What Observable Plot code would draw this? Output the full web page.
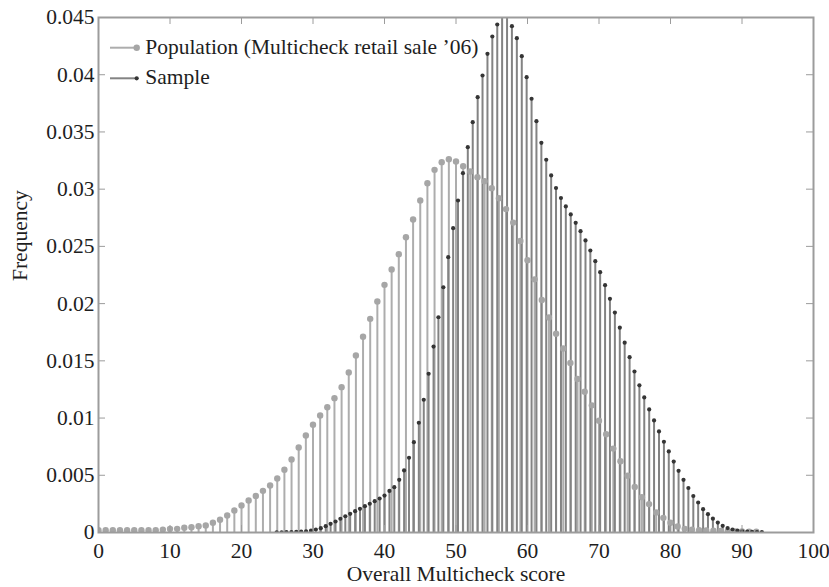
<!DOCTYPE html>
<html><head><meta charset="utf-8">
<script src="https://cdn.jsdelivr.net/npm/d3@7"></script>
<script src="https://cdn.jsdelivr.net/npm/@observablehq/plot@0.6"></script>
<style>body{margin:0;background:#fff}#chart svg{display:block}</style>
</head><body><div id="chart"></div>
<script>
// ---- data ----
const popScore = [0,1,2,3,4,5,6,7,8,9,10,11,12,13,14,15,16,17,18,19,20,21,22,23,24,25,26,27,28,29,30,31,32,33,34,35,36,37,38,39,40,41,42,43,44,45,46,47,48,49,50,51,52,53,54,55,56,57,58,59,60,61,62,63,64,65,66,67,68,69,70,71,72,73,74,75,76,77,78,79,80,81,82,83,84,85,86,87,88,89,90,91,92];
const popFreq = [0.0002,0.0002,0.0002,0.0002,0.0002,0.0002,0.0002,0.0002,0.0002,0.00025,
0.0003,0.00032,0.00041,0.00046,0.00055,0.00061,0.00085,0.00111,0.00149,0.00192,
0.00236,0.0028,0.00319,0.00364,0.00411,0.00472,0.00548,0.00638,0.00743,0.00848,
0.00941,0.01022,0.01095,0.01174,0.0127,0.01398,0.01547,0.0171,0.01867,0.02019,
0.02164,0.02298,0.02432,0.0258,0.02735,0.02901,0.03052,0.03169,0.03236,0.03262,
0.03242,0.03201,0.03154,0.03105,0.0307,0.03009,0.02921,0.02826,0.02708,0.02547,
0.02379,0.02212,0.02032,0.01879,0.01736,0.01608,0.01482,0.01342,0.0123,0.01111,
0.00977,0.00859,0.00733,0.00622,0.00496,0.00398,0.00309,0.00248,0.00175,0.00128,
0.00085,0.00052,0.00032,0.00025,0.0002,0.00018,0.00015,0.00013,0.00012,0.0001,
0.0001,0.00008,0.00008];

const sampleScore = [24.92,25.61,26.29,26.98,27.66,28.35,29.03,29.72,30.40,31.09,
31.78,32.46,33.15,33.83,34.52,35.20,35.89,36.57,37.26,37.94,
38.63,39.32,40.00,40.69,41.37,42.06,42.74,43.43,44.11,44.80,
45.49,46.17,46.86,47.54,48.23,48.91,49.60,50.28,50.97,51.65,
52.34,53.03,53.71,54.40,55.08,55.77,56.45,57.14,57.82,58.51,
59.20,59.88,60.57,61.25,61.94,62.62,63.31,63.99,64.68,65.36,
66.05,66.74,67.42,68.11,68.79,69.48,70.16,70.85,71.53,72.22,
72.91,73.59,74.28,74.96,75.65,76.33,77.02,77.70,78.39,79.08,
79.76,80.45,81.13,81.82,82.50,83.19,83.87,84.56,85.24,85.93,
86.62,87.30,87.99,88.67,89.36,90.04,90.73,91.41,92.10,92.78];
const sampleFreq = [0.00002,0.00002,0.00003,0.00004,0.00005,0.00007,0.0001,0.00017,0.00026,0.00038,
0.00055,0.00076,0.00096,0.0012,0.00142,0.00163,0.00186,0.00207,0.0023,0.00251,
0.00274,0.00297,0.00323,0.00363,0.00396,0.0046,0.00542,0.00653,0.00789,0.00959,
0.0116,0.01387,0.01625,0.01881,0.02143,0.02406,0.02659,0.02901,0.0314,0.03367,
0.03585,0.03804,0.03993,0.04183,0.04334,0.04439,0.0454,0.0455,0.04424,0.04319,
0.04162,0.03979,0.0379,0.03594,0.03405,0.03257,0.0312,0.0301,0.02923,0.02849,
0.02779,0.02706,0.02633,0.02552,0.02464,0.02371,0.02275,0.02161,0.02042,0.01922,
0.0179,0.01659,0.01532,0.01407,0.01286,0.0118,0.01075,0.00979,0.00883,0.00793,
0.00708,0.0062,0.00539,0.0046,0.00389,0.00319,0.00262,0.00204,0.0016,0.00121,
0.00087,0.00058,0.00039,0.00026,0.00017,0.0001,0.00007,0.00005,0.00004,0.00003];

const xTicks = [0,10,20,30,40,50,60,70,80,90,100];
const yTicks = [0,0.005,0.01,0.015,0.02,0.025,0.03,0.035,0.04,0.045];
const yTickLabels = ["0","0.005","0.01","0.015","0.02","0.025","0.03","0.035","0.04","0.045"];
const seriesNames = ["Population (Multicheck retail sale \u201906)", "Sample"];
const xLabel = "Overall Multicheck score";
const yLabel = "Frequency";

// ---- styling ----
const W = 829, H = 587;
const mL = 98, mR = 16, mT = 17, mB = 55;
const plotW = W - mL - mR, plotH = H - mT - mB;
const tickLen = 7;
const FONT = "'Liberation Serif','Times New Roman',serif";
const FS = 21.5;
const popStroke = "#adadad", popDot = "#a6a6a6";
const smpStroke = "#838383", smpDot = "#353535";
const frameColor = "#9c9c9c";

const pop = popScore.map((x, i) => ({x, y: popFreq[i]}));
const sample = sampleScore.map((x, i) => ({x, y: sampleFreq[i]}));

function legendMark(index, scales, values, dimensions) {
  const g = d3.create("svg:g").attr("font-family", FONT).attr("font-size", FS)
    .attr("fill", "#1e1e1e").attr("text-anchor", "start");
  const items = [
    {label: seriesNames[0], stroke: popStroke, dot: popDot, r: 3.2, dy: 30.7},
    {label: seriesNames[1], stroke: smpStroke, dot: smpDot, r: 2.1, dy: 61.3}
  ];
  const x0 = dimensions.marginLeft + 12, x1 = dimensions.marginLeft + 38.7;
  for (const it of items) {
    const y = dimensions.marginTop + it.dy;
    g.append("line").attr("x1", x0).attr("x2", x1).attr("y1", y).attr("y2", y)
      .attr("stroke", it.stroke).attr("stroke-width", 2);
    g.append("circle").attr("cx", x1).attr("cy", y).attr("r", it.r).attr("fill", it.dot);
    g.append("text").attr("x", x1 + 8.5).attr("y", y + 5.8).attr("text-anchor", "start").text(it.label);
  }
  return g.node();
}

const chart = Plot.plot({
  width: W, height: H,
  marginLeft: mL, marginRight: mR, marginTop: mT, marginBottom: mB,
  style: {fontFamily: FONT, fontSize: FS + "px", color: "#1e1e1e", background: "#fff"},
  x: {domain: [0, 100], ticks: xTicks, tickSize: 0, tickPadding: 10, label: null, tickFormat: d => String(d)},
  y: {domain: [0, 0.045], ticks: yTicks, tickSize: 0, tickPadding: 4, label: null,
      tickFormat: d => yTickLabels[yTicks.indexOf(d)]},
  marks: [
    Plot.ruleX(pop, {x: "x", y1: 0, y2: "y", stroke: popStroke, strokeWidth: 2, clip: true}),
    Plot.ruleX(sample, {x: "x", y1: 0, y2: "y", stroke: smpStroke, strokeWidth: 2, clip: true}),
    Plot.dot(pop, {x: "x", y: "y", r: 3.2, fill: popDot, stroke: "none", clip: true}),
    Plot.dot(sample, {x: "x", y: "y", r: 2.1, fill: smpDot, stroke: "none", clip: true}),
    Plot.ruleX(xTicks, {x: d => d, stroke: frameColor, strokeWidth: 1, insetTop: plotH - tickLen}),
    Plot.ruleX(xTicks, {x: d => d, stroke: frameColor, strokeWidth: 1, insetBottom: plotH - tickLen}),
    Plot.ruleY(yTicks, {y: d => d, stroke: frameColor, strokeWidth: 1, insetRight: plotW - tickLen}),
    Plot.ruleY(yTicks, {y: d => d, stroke: frameColor, strokeWidth: 1, insetLeft: plotW - tickLen}),
    Plot.frame({stroke: frameColor, strokeWidth: 2}),
    Plot.text([xLabel], {frameAnchor: "bottom", dy: 42, lineAnchor: "middle", fontSize: FS, fill: "#1e1e1e"}),
    Plot.text([yLabel], {frameAnchor: "left", dx: -78, dy: 6, rotate: -90, lineAnchor: "middle", fontSize: FS, fill: "#1e1e1e"}),
    legendMark
  ]
});
document.getElementById("chart").appendChild(chart);
</script>
</body></html>
